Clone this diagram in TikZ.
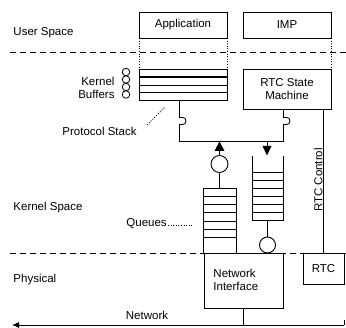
\documentclass[tikz,border=0pt]{standalone}
\usepackage{fontspec}
\setmainfont{Liberation Sans}
\usetikzlibrary{arrows.meta}
\begin{document}
\begin{tikzpicture}[x=1pt,y=-1pt, line width=0.9pt,
  box/.style={draw, rectangle, inner sep=0pt, outer sep=0pt},
  lbl/.style={font=\fontsize{11.5}{13}\selectfont, inner sep=0pt},
  sep/.style={dash pattern=on 6pt off 4pt},
  dots/.style={line width=0.9pt, dash pattern=on 1pt off 1.6pt},
  ring/.style={draw, circle, fill=white, inner sep=0pt, outer sep=0pt}]
\useasboundingbox (0,0) rectangle (346,328);

% layer separators
\coordinate (s1L) at (10,52); \coordinate (s1R) at (346,52);
\coordinate (s2L) at (10,253); \coordinate (s2R) at (346,253);

% layer labels
\node[lbl, anchor=west] (us) at (13,32.5) {User Space};
\node[lbl, anchor=west] (ks) at (13,208) {Kernel Space};
\node[lbl, anchor=west] (ph) at (13,280) {Physical};

% user space boxes
\node[box, lbl, minimum width=88pt, minimum height=26pt] (app) at (183,25) {Application};
\node[box, lbl, minimum width=88pt, minimum height=26pt] (imp) at (287,25) {IMP};

% protocol stack
\node[box, minimum width=88pt, minimum height=31pt] (stack) at (183,84.5) {};
\draw[line width=1.8pt] ([yshift=-8pt]stack.north west) -- ([yshift=-8pt]stack.north east);
\draw ([yshift=-16pt]stack.north west) -- ([yshift=-16pt]stack.north east);
\draw ([yshift=-23.5pt]stack.north west) -- ([yshift=-23.5pt]stack.north east);

% RTC state machine
\node[box, lbl, align=center, minimum width=88pt, minimum height=40pt] (rtcsm) at (287,89) {RTC State\\Machine};

% dotted links across user/kernel boundary
\draw[dots] (app.south west) -- (stack.north west);
\draw[dots] (app.south east) -- (stack.north east);
\draw[dots] (imp.south east) -- (rtcsm.north east);

% separators drawn
\draw[sep] (s1L) -- (s1R);

% kernel buffers
\foreach \yy/\nm in {72/b1,79.5/b2,87/b3,94.5/b4}
  \node[draw, circle, inner sep=0pt, minimum size=7.5pt, line width=0.8pt] (\nm) at (126,\yy) {};
\node[lbl, align=right, anchor=east] (kb) at (115,87.5) {Kernel\\Buffers};

% protocol stack label
\node[lbl, anchor=west] (psl) at (62,131) {Protocol Stack};
\coordinate (psa) at (147,125); \coordinate (psb) at (165,107);
\draw[dots] (psa) -- (psb);

% connection bus between stack and RTC state machine
\coordinate (sa) at ([xshift=-4pt]stack.south);
\coordinate (ra) at ([xshift=-4pt]rtcsm.south);
\coordinate (busL) at (sa |- 0,141);
\coordinate (busR) at (ra |- 0,141);
\draw (sa) -- (busL) -- (busR) -- (ra);

% small port shapes
\foreach \px in {179,283}
  \draw[fill=white, line width=0.8pt] (\px,117.5) -- (\px+4,117.5) to[out=0,in=90] (\px+7,121) to[out=-90,in=0] (\px+4,124.5) -- (\px,124.5);

% left (outgoing) queue
\coordinate (qLtop) at (219.5,188);
\draw (203,253) -- (203,188) -- (236,188) -- (236,253);
\foreach \yy in {196,204,212,221,229,237}
  \draw (203,\yy) -- (236,\yy);
\coordinate (upA) at (219.5,141);
\node[ring, minimum size=17pt] (c1) at (219.5,164) {};
\draw (upA) -- (c1) -- (qLtop);
\fill (214.5,151) -- (219.5,141.5) -- (224.5,151) -- cycle;

% right (incoming) queue
\coordinate (qRbot) at (267.5,220);
\draw (252,156) -- (252,220) -- (283,220) -- (283,156);
\foreach \yy in {172,180,188,196,204,212}
  \draw (252,\yy) -- (283,\yy);
\coordinate (dnA) at (267,141);
\coordinate (dnB) at (267,147);
\draw (dnA) -- (dnB);
\fill (262.5,146) -- (271.5,146) -- (267,155.5) -- cycle;
\node[ring, minimum size=16pt] (c2) at (267.5,245) {};
\draw (qRbot) -- (c2);

% queues label
\node[lbl, anchor=west] (ql) at (126,224) {Queues};
\coordinate (qla) at (168,225.5); \coordinate (qlb) at (194,225.5);
\draw[dots] (qla) -- (qlb);

% physical layer
\node[box, minimum width=79pt, minimum height=55pt] (ni) at (243.5,280.5) {};
\node[lbl, align=left, anchor=west] (nit) at (213,279.5) {Network\\Interface};
\node[box, lbl, minimum width=41pt, minimum height=31pt] (rtc) at (323.5,268.5) {RTC};

% RTC control line
\draw (rtc.north |- rtcsm.south) -- (rtc.north);
\node[lbl, rotate=90, anchor=south] (rtcc) at (323,180) {RTC Control};

\draw[sep] (s2L) -- (s2R);

% network
\coordinate (netL) at (12,325);
\coordinate (netR) at (344,325);
\draw[-{Latex[length=7pt,width=6pt]}] (netR) -- (netL);
\draw (netR) -- ++(0,-5);
\draw (ni.south) -- (ni.south |- netL);
\node[lbl] (netl) at (147,315) {Network};
\end{tikzpicture}
\end{document}
